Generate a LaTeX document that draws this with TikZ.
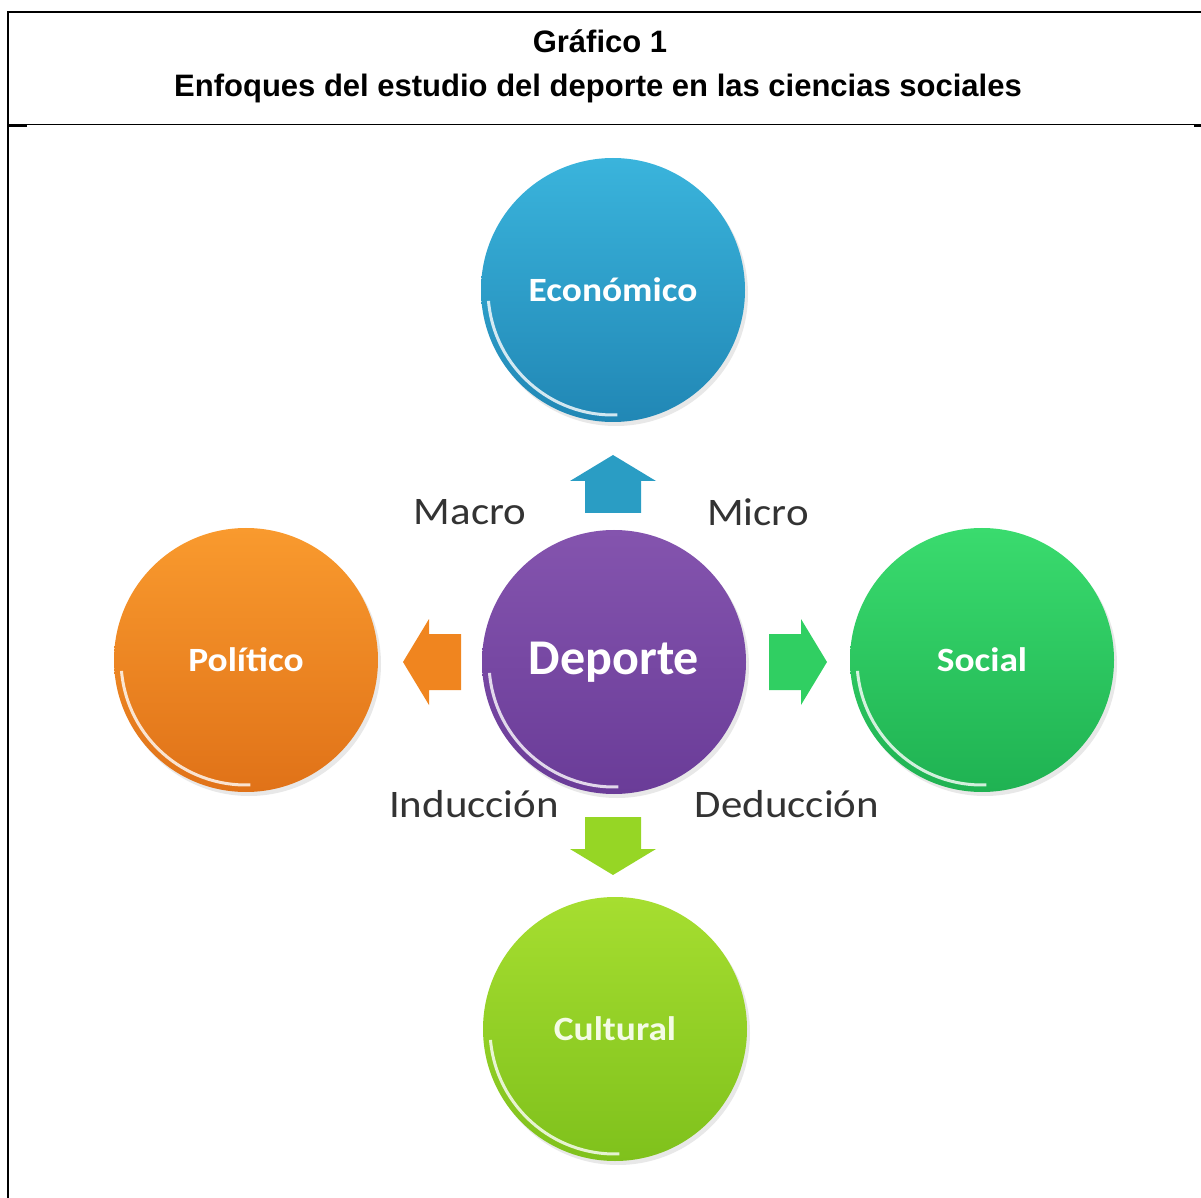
\documentclass[tikz,border=0pt]{standalone}
\usepackage{fontspec}
\setmainfont{Liberation Sans}
\newfontfamily\carlito{Carlito}
\usepackage{graphicx}
\usetikzlibrary{positioning, shadows, calc}

\definecolor{ecoA}{HTML}{3AB4DC}
\definecolor{ecoB}{HTML}{2187B5}
\definecolor{depA}{HTML}{8454AE}
\definecolor{depB}{HTML}{6A3C98}
\definecolor{polA}{HTML}{F99A2E}
\definecolor{polB}{HTML}{E07218}
\definecolor{socA}{HTML}{3ADB6E}
\definecolor{socB}{HTML}{1FB252}
\definecolor{culA}{HTML}{A6DE30}
\definecolor{culB}{HTML}{7FC11C}
\definecolor{arrEco}{HTML}{2A9DC4}
\definecolor{arrPol}{HTML}{F0851F}
\definecolor{arrSoc}{HTML}{30CF62}
\definecolor{arrCul}{HTML}{96D625}

\newcommand{\ancho}[2]{\scalebox{#1}[1]{#2}}

\tikzset{
  bola/.style={circle, minimum size=132pt, inner sep=0pt, text=white,
    font=\carlito\bfseries\fontsize{17}{20}\selectfont,
    drop shadow={opacity=0.18, shadow xshift=1.5pt, shadow yshift=-2pt}},
  brillo/.style={white, opacity=0.8, line width=1.5pt},
  rotulo/.style={font=\carlito\fontsize{19.5}{22}\selectfont, text=black!80},
  titulo/.style={font=\bfseries\fontsize{15.5}{18}\selectfont, anchor=base},
  % flecha gruesa, apunta a la derecha (unidades de pixel)
  pics/flecha/.style={code={
    \fill (-29,-28) -- (3,-28) -- (3,-43) -- (29,0) -- (3,43) -- (3,28) -- (-29,28) -- cycle;
  }},
}

\begin{document}
\begin{tikzpicture}[x=0.5pt, y=0.5pt]
\useasboundingbox (0,0) rectangle (1201,-1198);

% marco de la tabla
\draw[line width=1pt] (7.5,-1198) -- (7.5,-12) -- (1201,-12);
\draw[line width=0.8pt] (7.5,-124.5) -- (1201,-124.5);
\fill (7.5,-124) rectangle (27,-127);
\fill (1194,-124) rectangle (1201,-127);

\node[titulo] (graf) at (600,-53) {Gráfico 1};
\node[titulo] (tit) at (598,-97) {Enfoques del estudio del deporte en las ciencias sociales};

% circulos
\node[bola, top color=ecoA, bottom color=ecoB] (eco) at (613,-290) {\ancho{1.1}{Económico}};
\node[bola, top color=depA, bottom color=depB, font=\carlito\bfseries\fontsize{25}{28}\selectfont] (dep) at (614,-662) {Deporte};
\node[bola, top color=polA, bottom color=polB] (pol) at (246,-660) {\ancho{1.1}{Político}};
\node[bola, top color=socA, bottom color=socB] (soc) at (982,-660) {\ancho{1.1}{Social}};
\node[bola, top color=culA, bottom color=culB, text=white!88!culA] (cul) at (615,-1029) {\ancho{1.1}{Cultural}};

\foreach \b in {eco,dep,pol,soc,cul}
  \draw[brillo] (\b.center) ++(185:62.5pt) arc[start angle=185, end angle=272, radius=62.5pt];

% flechas
\pic[fill=arrEco, rotate=90] (fEco) at (613,-484) {flecha};
\pic[fill=arrPol, rotate=180] (fPol) at (432,-662) {flecha};
\pic[fill=arrSoc] (fSoc) at (798,-662) {flecha};
\pic[fill=arrCul, rotate=270] (fCul) at (613,-846) {flecha};

\node[rotulo] (macro) at (470,-512) {\ancho{1.1}{Macro}};
\node[rotulo] (micro) at (758,-512) {\ancho{1.1}{Micro}};
\node[rotulo] (ind) at (474,-804) {\ancho{1.1}{Inducción}};
\node[rotulo] (ded) at (787,-804) {\ancho{1.1}{Deducción}};

\end{tikzpicture}
\end{document}
